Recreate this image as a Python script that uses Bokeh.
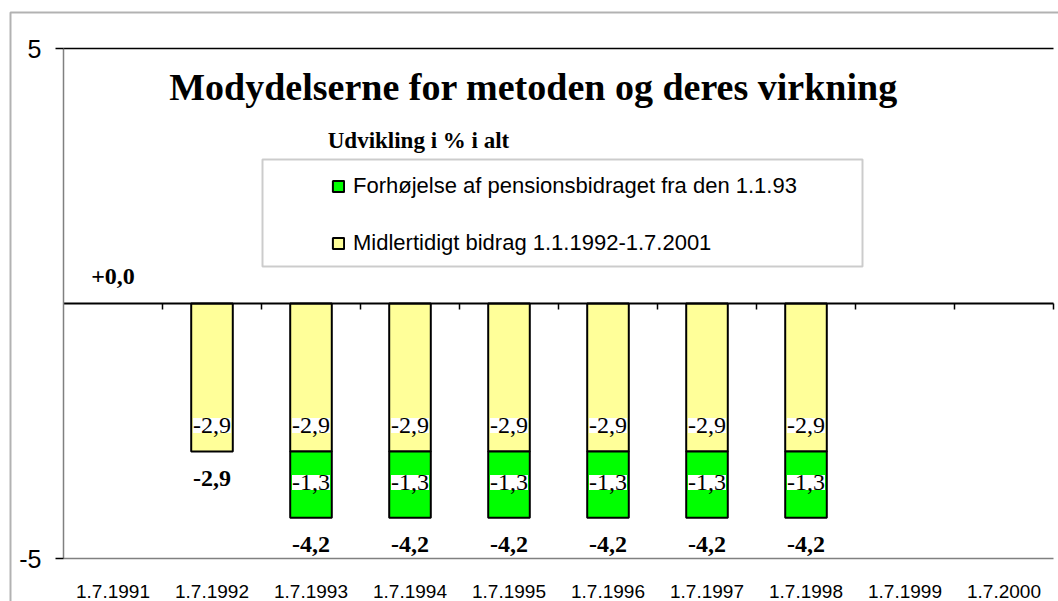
from bokeh.plotting import figure
from bokeh.models import (ColumnDataSource, Range1d, LinearAxis, FixedTicker,
                          LabelSet, Label, BoxAnnotation, Legend, LegendItem)
from bokeh.core.properties import value
from bokeh.embed import file_html
from bokeh.resources import INLINE

# ---- data ----
cats = ["1.7.1991", "1.7.1992", "1.7.1993", "1.7.1994", "1.7.1995",
        "1.7.1996", "1.7.1997", "1.7.1998", "1.7.1999", "1.7.2000"]
midl = [0.0, -2.9, -2.9, -2.9, -2.9, -2.9, -2.9, -2.9, 0.0, 0.0]   # Midlertidigt bidrag
forh = [0.0, 0.0, -1.3, -1.3, -1.3, -1.3, -1.3, -1.3, 0.0, 0.0]    # Forhøjelse af pensionsbidraget
total_shown = [True, True, True, True, True, True, True, True, False, False]
y_ticks = [-5, 5]
y_tick_labels = ["-5", "5"]

title = "Modydelserne for metoden og deres virkning"
subtitle = "Udvikling i % i alt"
lab_forh = "Forhøjelse af pensionsbidraget fra den 1.1.93"
lab_midl = "Midlertidigt bidrag 1.1.1992-1.7.2001"

YELLOW = "#FFFF99"
GREEN = "#00FF00"
SERIF = "Liberation Serif"
SANS = "Liberation Sans"
NOLINE = "rgba(0,0,0,0)"

# ---- layout (pixels) ----
W, H = 1058, 601
PL, PR, PT, PB = 63, 1053, 48, 558      # plot-area edges inside the chart


def fmt(v, sign=False):
    s = f"{v:+.1f}" if sign else f"{v:.1f}"
    return s.replace(".", ",")


n = len(cats)
y0, y1 = y_ticks
xpos = [i + 0.5 for i in range(n)]   # category slots on a linear scale
src = ColumnDataSource(dict(
    x=xpos, midl=midl, forh=forh,
    edge_m=["black" if v != 0 else NOLINE for v in midl],
    edge_f=["black" if v != 0 else NOLINE for v in forh],
))

xu = n / (PR - PL)                    # data units per pixel
yu = (y1 - y0) / (PB - PT)
x_range = Range1d(-PL * xu, n + (W - PR) * xu)
y_range = Range1d(y0 - (H - PB) * yu, y1 + PT * yu)

p = figure(width=W, height=H, x_range=x_range, y_range=y_range,
           output_backend="svg", toolbar_location=None,
           x_axis_location=None, y_axis_location=None, min_border=0)
p.outline_line_color = None
p.grid.visible = False
p.background_fill_color = "white"
p.border_fill_color = "white"

rs = p.vbar_stack(["midl", "forh"], x="x", width=0.42, source=src,
                  fill_color=[YELLOW, GREEN], line_color=["edge_m", "edge_f"], line_width=2)
r_midl, r_forh = rs


def hline_axis(loc, color, width):
    ax = LinearAxis(fixed_location=loc, bounds=(0, n), ticker=FixedTicker(ticks=[]))
    ax.axis_line_color = color
    ax.axis_line_width = width
    ax.major_tick_line_color = None
    ax.minor_tick_line_color = None
    ax.major_label_text_color = None
    return ax


# top gridline at 5
p.add_layout(hline_axis(y1, "black", 1.5), "below")

# bottom gridline at -5 with category labels
xa = hline_axis(y0, "#808080", 1.5)
xa.ticker = FixedTicker(ticks=xpos)
xa.major_label_overrides = {x: c for x, c in zip(xpos, cats)}
xa.major_label_standoff = 20
xa.major_label_text_font = SANS
xa.major_label_text_font_size = "19px"
xa.major_label_text_color = "black"
p.add_layout(xa, "below")

# zero axis with tick marks between categories
zax = LinearAxis(fixed_location=0, bounds=(0, n),
                 ticker=FixedTicker(ticks=list(range(1, n + 1))))
zax.axis_line_color = "black"
zax.axis_line_width = 2
zax.major_tick_line_color = "black"
zax.major_tick_line_width = 1.5
zax.major_tick_out = 6
zax.major_tick_in = 0
zax.minor_tick_line_color = None
zax.major_label_text_color = None
zax.major_label_text_font_size = "1px"
p.add_layout(zax, "below")

# value axis
ya = LinearAxis(fixed_location=0, bounds=(y0, y1), ticker=FixedTicker(ticks=y_ticks))
ya.major_label_overrides = {t: s for t, s in zip(y_ticks, y_tick_labels)}
ya.axis_line_color = "#808080"
ya.axis_line_width = 1.5
ya.major_tick_line_color = "black"
ya.major_tick_line_width = 1.5
ya.major_tick_out = 8
ya.major_tick_in = 0
ya.minor_tick_line_color = None
ya.major_label_standoff = 14
ya.major_label_text_font = SANS
ya.major_label_text_font_size = "25px"
ya.major_label_text_color = "black"
p.add_layout(ya, "left")

# inner segment labels
im = [i for i, v in enumerate(midl) if v != 0]
src_m = ColumnDataSource(dict(x=[xpos[i] for i in im], y=[midl[i] for i in im],
                              t=[fmt(midl[i]) for i in im]))
p.add_layout(LabelSet(x="x", y="y", text="t", source=src_m, y_offset=26,
                      text_align="center", text_baseline="middle",
                      text_font=value(SERIF), text_font_size="24px", text_color="black",
                      background_fill_color="white"))
ig = [i for i, v in enumerate(forh) if v != 0]
src_g = ColumnDataSource(dict(x=[xpos[i] for i in ig], y=[midl[i] + forh[i] / 2 for i in ig],
                              t=[fmt(forh[i]) for i in ig]))
p.add_layout(LabelSet(x="x", y="y", text="t", source=src_g, y_offset=2,
                      text_align="center", text_baseline="middle",
                      text_font=value(SERIF), text_font_size="24px", text_color="black",
                      background_fill_color="white"))

# totals
tot = [m + f for m, f in zip(midl, forh)]
ineg = [i for i in range(n) if total_shown[i] and tot[i] < 0]
ipos = [i for i in range(n) if total_shown[i] and tot[i] >= 0]
src_tn = ColumnDataSource(dict(x=[xpos[i] for i in ineg], y=[tot[i] for i in ineg],
                               t=[fmt(tot[i], True) for i in ineg]))
src_tp = ColumnDataSource(dict(x=[xpos[i] for i in ipos], y=[tot[i] for i in ipos],
                               t=[fmt(tot[i], True) for i in ipos]))
p.add_layout(LabelSet(x="x", y="y", text="t", source=src_tn, y_offset=-27,
                      text_align="center", text_baseline="middle",
                      text_font=value(SERIF), text_font_size="24px", text_font_style="bold",
                      text_color="black"))
p.add_layout(LabelSet(x="x", y="y", text="t", source=src_tp, y_offset=27,
                      text_align="center", text_baseline="middle",
                      text_font=value(SERIF), text_font_size="24px", text_font_style="bold",
                      text_color="black"))

# titles
p.add_layout(Label(x=533, y=H - 86, x_units="screen", y_units="screen", text=title,
                   text_align="center", text_baseline="alphabetic",
                   text_font=SERIF, text_font_size="38px", text_font_style="bold",
                   text_color="black"))
p.add_layout(Label(x=418, y=H - 140, x_units="screen", y_units="screen", text=subtitle,
                   text_align="center", text_baseline="alphabetic",
                   text_font=SERIF, text_font_size="23px", text_font_style="bold",
                   text_color="black"))

# legend box
p.add_layout(BoxAnnotation(left=262, right=862, top=159, bottom=266,
                           left_units="canvas", right_units="canvas",
                           top_units="canvas", bottom_units="canvas",
                           fill_color=None, fill_alpha=0, line_color="#555555", line_width=2,
                           level="overlay"))
leg = Legend(items=[LegendItem(label=lab_forh, renderers=[r_forh], index=ig[0]),
                    LegendItem(label=lab_midl, renderers=[r_midl], index=im[0])],
             location=(331, H - 256), orientation="vertical",
             glyph_width=14, glyph_height=14, label_height=26, spacing=31,
             label_standoff=8, padding=0, margin=0,
             border_line_color=None, background_fill_alpha=0,
             label_text_font=SANS, label_text_font_size="22px", label_text_color="black")
p.add_layout(leg, "center")

# outer chart border
p.add_layout(BoxAnnotation(left=10, right=W + 10, top=12, bottom=H + 10,
                           left_units="canvas", right_units="canvas",
                           top_units="canvas", bottom_units="canvas",
                           fill_color=None, fill_alpha=0, line_color="black", line_width=2,
                           level="overlay"))

open("out.html", "w").write(file_html(p, INLINE))
